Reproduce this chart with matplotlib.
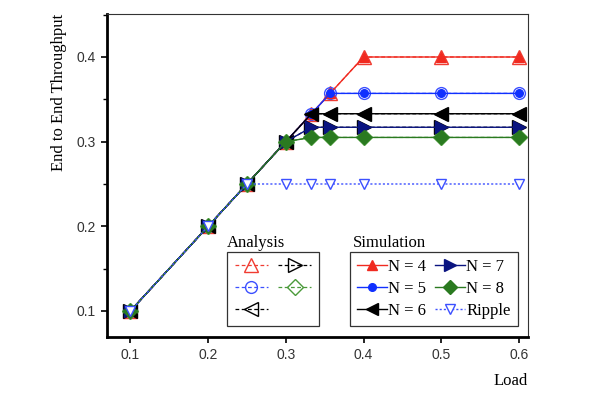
import numpy as np
import matplotlib
matplotlib.use('Agg')
import matplotlib.pyplot as plt
from matplotlib.ticker import MultipleLocator

### Data
loads = [0.1, 0.2, 0.25, 0.3, 0.333, 0.357, 0.4, 0.5, 0.6]
n4 = [0.1, 0.2, 0.25, 0.3, 0.333, 0.357, 0.4, 0.4, 0.4]
n5 = [0.1, 0.2, 0.25, 0.3, 0.333, 0.357, 0.357, 0.357, 0.357]
n6 = [0.1, 0.2, 0.25, 0.3, 0.333, 0.333, 0.333, 0.333, 0.333]
n7 = [0.1, 0.2, 0.25, 0.3, 0.317, 0.317, 0.317, 0.317, 0.317]
n8 = [0.1, 0.2, 0.25, 0.3, 0.305, 0.305, 0.305, 0.305, 0.305]
ripple = [0.1, 0.2, 0.25, 0.25, 0.25, 0.25, 0.25, 0.25, 0.25]

series = [n4, n5, n6, n7, n8]
sim_labels = ['N = 4', 'N = 5', 'N = 6', 'N = 7', 'N = 8']
ana_colors = ['#f03c32', '#3c50ff', 'black', 'black', '#4a9a3a']
sim_colors = ['#f02a20', '#1030ff', 'black', '#0a1480', '#2a7a20']
markers = ['^', 'o', '<', '>', 'D']
ana_sizes = [10, 8.5, 10, 10, 8]
sim_sizes = [7.5, 5.5, 8.5, 8, 7]

serif = 'Liberation Serif'
sans = 'Liberation Sans'

fig = plt.figure(figsize=(5.9, 3.94), dpi=100)
ax = fig.add_axes([0.1814, 0.1447, 0.7135, 0.8198])

### Analysis curves: open markers, dashed
ana_handles = []
for i in range(len(series)):
    h, = ax.plot(loads, series[i], linestyle=(0, (3, 2)), linewidth=0.9,
                 color=ana_colors[i], marker=markers[i], markersize=ana_sizes[i],
                 markerfacecolor='none', markeredgecolor=ana_colors[i],
                 markeredgewidth=1.0, zorder=2)
    ana_handles.append(h)

### Simulation curves: filled markers, solid
sim_handles = []
for i in range(len(series)):
    h, = ax.plot(loads, series[i], linestyle='-', linewidth=1.0,
                 color=sim_colors[i], marker=markers[i], markersize=sim_sizes[i],
                 markerfacecolor=sim_colors[i], markeredgecolor=sim_colors[i],
                 zorder=3, label=sim_labels[i])
    sim_handles.append(h)

h, = ax.plot(loads, ripple, linestyle=(0, (1.5, 1.5)), linewidth=1.0,
             color='#3c50ff', marker='v', markersize=6.5,
             markerfacecolor='white', markeredgecolor='#3c50ff',
             zorder=4, label='Ripple')
sim_handles.append(h)

ax.set_xlim(0.07, 0.6116)
ax.set_ylim(0.0693, 0.4508)
ax.set_xticks([0.1, 0.2, 0.3, 0.4, 0.5, 0.6])
ax.set_yticks([0.1, 0.2, 0.3, 0.4])
ax.yaxis.set_minor_locator(MultipleLocator(0.05))
ax.tick_params(axis='both', which='major', direction='out', length=4.5,
               width=1.2, labelsize=10, labelcolor='#333333')
ax.tick_params(axis='y', which='minor', direction='out', length=3, width=1.0)
for lab in ax.get_xticklabels() + ax.get_yticklabels():
    lab.set_fontfamily(sans)

ax.spines['left'].set_linewidth(2)
ax.spines['bottom'].set_linewidth(2)
ax.spines['top'].set_linewidth(0.8)
ax.spines['right'].set_linewidth(0.8)
ax.spines['top'].set_color('#333333')
ax.spines['right'].set_color('#333333')

ax.set_ylabel('End to End Throughput', fontsize=12, family=serif,
              loc='top', labelpad=7)
ax.set_xlabel('Load', fontsize=12, family=serif, loc='right', labelpad=8)

### Legends
leg1 = ax.legend(ana_handles, [''] * 5, ncol=2, loc='lower left',
                 bbox_to_anchor=(0.285, 0.034), fancybox=False,
                 edgecolor='#333333', framealpha=1, handlelength=2.0,
                 handletextpad=0.0, columnspacing=0.6, borderpad=0.45,
                 labelspacing=0.34, borderaxespad=0,
                 prop={'family': serif, 'size': 12})
leg1.get_frame().set_linewidth(0.9)
ax.add_artist(leg1)

leg2 = ax.legend(sim_handles, sim_labels + ['Ripple'], ncol=2,
                 loc='lower left', bbox_to_anchor=(0.577, 0.034),
                 fancybox=False, edgecolor='#333333', framealpha=1,
                 handlelength=1.75, handletextpad=0.1, columnspacing=0.55,
                 borderpad=0.45, labelspacing=0.34, borderaxespad=0,
                 prop={'family': serif, 'size': 12})
leg2.get_frame().set_linewidth(0.9)

ax.text(0.285, 0.29, 'Analysis', transform=ax.transAxes, fontsize=12,
        family=serif, ha='left', va='center')
ax.text(0.585, 0.29, 'Simulation', transform=ax.transAxes, fontsize=12,
        family=serif, ha='left', va='center')

plt.savefig('out.png', dpi=100)
